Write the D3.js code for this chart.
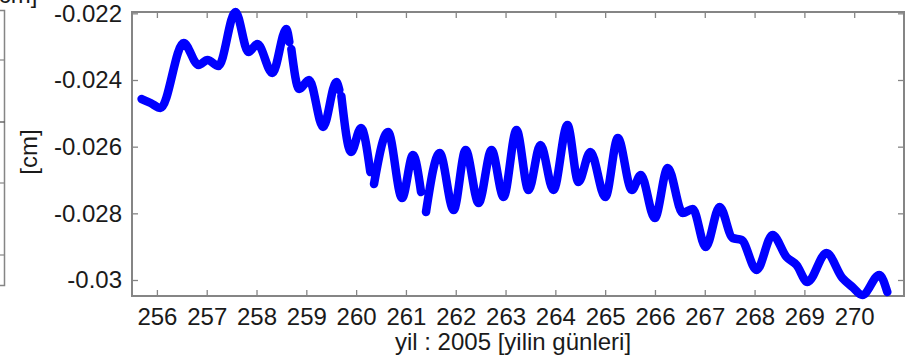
<!DOCTYPE html>
<html>
<head>
<meta charset="utf-8">
<script src="https://cdn.jsdelivr.net/npm/d3@7"></script>
<style>
  html, body { margin: 0; padding: 0; background: #fff; }
  svg { display: block; }
  text { font-family: "Liberation Sans", Arial, sans-serif; fill: #1a1a1a; }
</style>
</head>
<body>
<svg id="chart" width="907" height="361"></svg>
<script>
// Day of year (2005) and displacement in cm; null marks a break in the record.
const days = [
  255.693, 255.874, 256.075, 256.535, 256.836, 257.016, 257.236, 257.577,
  257.838, 258.018, 258.319, 258.599, 258.659,
  null,
  258.699, 258.856, 259.056, 259.337, 259.603, 259.663,
  null,
  259.703, 259.898, 260.098, 260.285,
  null,
  260.359, 260.641, 260.922, 261.142, 261.303,
  null,
  261.403, 261.677, 261.958, 262.198, 262.459, 262.719, 262.960, 263.220,
  263.461, 263.701, 263.962, 264.242, 264.463, 264.703, 265.004, 265.255,
  265.535, 265.716, 265.996, 266.257, 266.557, 266.758, 267.018, 267.299,
  267.559, 267.739, 268.040, 268.361, 268.641, 268.842, 269.062, 269.443,
  269.763, 269.964, 270.164, 270.505, 270.665
];
const values = [
  -0.02457, -0.02469, -0.02484, -0.02289, -0.02355, -0.02340, -0.02358, -0.02196,
  -0.02316, -0.02292, -0.02379, -0.02247, -0.02286,
  null,
  -0.02307, -0.02427, -0.02400, -0.02541, -0.02406, -0.02430,
  null,
  -0.02448, -0.02616, -0.02544, -0.02676,
  null,
  -0.02712, -0.02556, -0.02754, -0.02625, -0.02736,
  null,
  -0.02796, -0.02619, -0.02790, -0.02610, -0.02769, -0.02610, -0.02751, -0.02550,
  -0.02730, -0.02595, -0.02730, -0.02535, -0.02706, -0.02616, -0.02751, -0.02574,
  -0.02730, -0.02685, -0.02814, -0.02664, -0.02799, -0.02787, -0.02901, -0.02781,
  -0.02874, -0.02880, -0.02970, -0.02865, -0.02931, -0.02955, -0.03006, -0.02919,
  -0.02994, -0.03021, -0.03045, -0.02985, -0.03036
];

const xTicks = [256, 257, 258, 259, 260, 261, 262, 263, 264, 265, 266, 267, 268, 269, 270];
const yTicks = [-0.022, -0.024, -0.026, -0.028, -0.03];
const yTickLabels = ["-0.022", "-0.024", "-0.026", "-0.028", "-0.03"];
const xAxisTitle = "yil : 2005 [yilin günleri]";
const yAxisTitle = "[cm]";

const svg = d3.select("#chart");
const box = { left: 132, right: 904, top: 12, bottom: 296 };
const axisColor = "#858585";

const x = d3.scaleLinear().domain([255.5, 271]).range([box.left, box.right]);
const y = d3.scaleLinear().domain([-0.03048, -0.02196]).range([box.bottom, box.top]);

// Edge of the neighbouring panel on the left
const side = svg.append("g");
side.append("path")
  .attr("d", "M0,10.5H4.5V285.5H0")
  .attr("fill", "none").attr("stroke", axisColor).attr("stroke-width", 1.5);
[60, 122, 183, 255].forEach(v => {
  side.append("line").attr("x1", 0).attr("x2", 4.5).attr("y1", v).attr("y2", v)
    .attr("stroke", v === 122 ? "#444" : axisColor).attr("stroke-width", 1.2);
});
svg.append("text").attr("x", -8).attr("y", 3).attr("font-size", 24).text("[cm]");

// Axes: ticks point inwards on all four sides
const fmtY = d => yTickLabels[yTicks.indexOf(d)];
const axes = [
  svg.append("g").attr("transform", `translate(0,${box.bottom})`)
    .call(d3.axisBottom(x).tickValues(xTicks).tickSizeInner(-6).tickSizeOuter(0).tickPadding(12).tickFormat(d3.format("d"))),
  svg.append("g").attr("transform", `translate(0,${box.top})`)
    .call(d3.axisTop(x).tickValues(xTicks).tickSizeInner(-6).tickSizeOuter(0).tickFormat("")),
  svg.append("g").attr("transform", `translate(${box.left},0)`)
    .call(d3.axisLeft(y).tickValues(yTicks).tickSizeInner(-6).tickSizeOuter(0).tickPadding(10).tickFormat(fmtY)),
  svg.append("g").attr("transform", `translate(${box.right},0)`)
    .call(d3.axisRight(y).tickValues(yTicks).tickSizeInner(-6).tickSizeOuter(0).tickFormat(""))
];
axes.forEach(g => {
  g.select(".domain").remove();
  g.selectAll(".tick line").attr("stroke", axisColor).attr("stroke-width", 1.3);
  g.selectAll(".tick text").attr("font-size", 24).attr("font-family", "Liberation Sans, Arial, sans-serif").attr("fill", "#1a1a1a");
});
axes[0].selectAll(".tick text").attr("dy", "0.71em");

svg.append("rect")
  .attr("x", box.left).attr("y", box.top)
  .attr("width", box.right - box.left).attr("height", box.bottom - box.top)
  .attr("fill", "none").attr("stroke", axisColor).attr("stroke-width", 2);

// Displacement series
const series = days.map((d, i) => ({ d, v: values[i] }));
const line = d3.line()
  .defined(p => p.d != null && p.v != null)
  .x(p => x(p.d)).y(p => y(p.v))
  .curve(d3.curveMonotoneX);

svg.append("path")
  .datum(series)
  .attr("d", line)
  .attr("fill", "none")
  .attr("stroke", "#0000ff")
  .attr("stroke-width", 8.5)
  .attr("stroke-linejoin", "round")
  .attr("stroke-linecap", "round");

// Axis titles
svg.append("text")
  .attr("x", (box.left + box.right) / 2 - 5).attr("y", 350)
  .attr("text-anchor", "middle").attr("font-size", 24)
  .text(xAxisTitle);
svg.append("text")
  .attr("transform", "translate(37,152) rotate(-90)")
  .attr("text-anchor", "middle").attr("font-size", 24)
  .text(yAxisTitle);
</script>
</body>
</html>
